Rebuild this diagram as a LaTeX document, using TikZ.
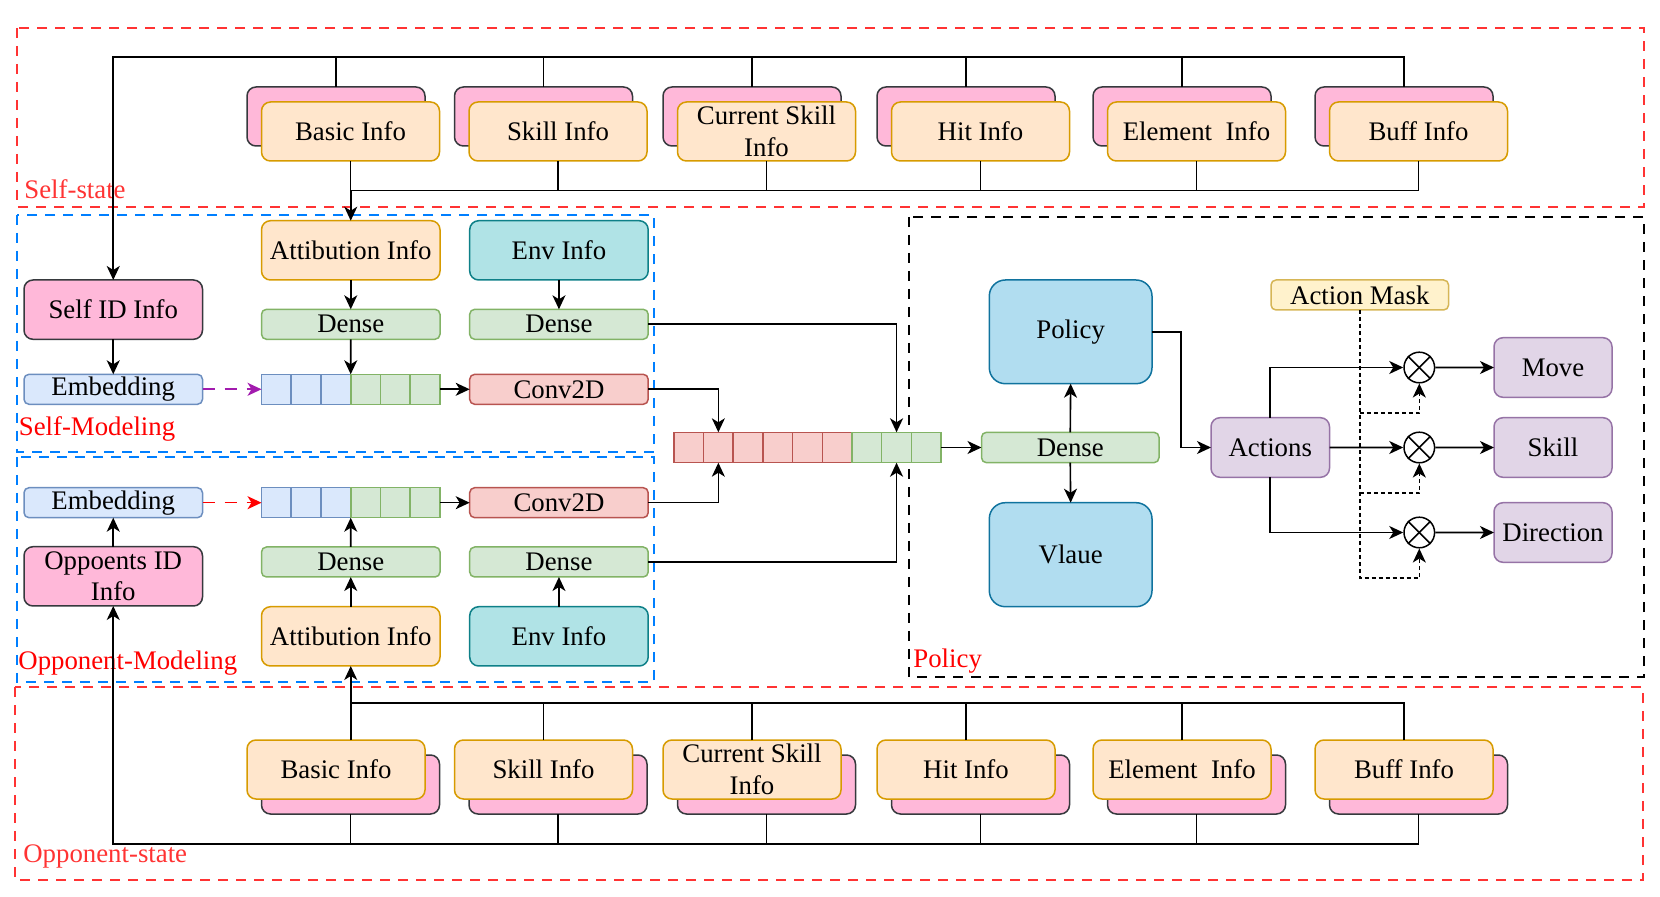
\documentclass[tikz,border=0pt]{standalone}
\usepackage{fontspec}
\setmainfont{Liberation Serif}
\usetikzlibrary{arrows.meta,calc}
\definecolor{orF}{HTML}{FFE6CC}\definecolor{orD}{HTML}{D79B00}
\definecolor{pkF}{HTML}{FFB8D9}\definecolor{pkD}{HTML}{36393D}
\definecolor{tlF}{HTML}{B0E3E6}\definecolor{tlD}{HTML}{0E8088}
\definecolor{gnF}{HTML}{D5E8D4}\definecolor{gnD}{HTML}{82B366}
\definecolor{blF}{HTML}{DAE8FC}\definecolor{blD}{HTML}{6C8EBF}
\definecolor{rdF}{HTML}{F8CECC}\definecolor{rdD}{HTML}{B85450}
\definecolor{skF}{HTML}{B1DDF0}\definecolor{skD}{HTML}{10739E}
\definecolor{puF}{HTML}{E1D5E7}\definecolor{puD}{HTML}{9673A6}
\definecolor{ylF}{HTML}{FFF2CC}\definecolor{ylD}{HTML}{D6B656}
\definecolor{frRed}{HTML}{FF3333}\definecolor{frBlue}{HTML}{007FFF}
\definecolor{embArr}{HTML}{A21BAE}
\begin{document}
\begin{tikzpicture}[x=0.5pt,y=-0.5pt,
  font=\fontsize{13.4pt}{15.8pt}\selectfont,
  base/.style={draw, line width=0.75pt, inner sep=0pt, outer sep=0pt, anchor=north west, align=center},
  wh/.style 2 args={minimum width=#1*0.5pt, minimum height=#2*0.5pt},
  big/.style={base, rounded corners=4.5pt},
  small/.style={base, rounded corners=2.5pt},
  cell/.style={base, minimum width=14.86pt, minimum height=15pt},
  orange/.style={fill=orF, draw=orD},
  pink/.style={fill=pkF, draw=pkD},
  teal/.style={fill=tlF, draw=tlD},
  green/.style={fill=gnF, draw=gnD},
  blue/.style={fill=blF, draw=blD},
  redb/.style={fill=rdF, draw=rdD},
  sky/.style={fill=skF, draw=skD},
  purp/.style={fill=puF, draw=puD},
  yell/.style={fill=ylF, draw=ylD},
  arr/.style={-{Stealth[length=7pt,width=6.5pt,inset=2pt]}, line width=0.8pt},
  ln/.style={line width=0.8pt},
  frame/.style={dash pattern=on 5pt off 4pt, line width=0.75pt},
  mline/.style={dash pattern=on 2pt off 1.5pt},
  lbl/.style={anchor=base west, inner sep=0pt, text=red},
  otimes/.style={circle, draw, line width=0.75pt, minimum size=15.3pt, inner sep=0pt, fill=white}
]
\useasboundingbox (0,0) rectangle (1660,897);

% frames
\draw[frame, frRed] (17,28) rectangle (1644,207);
\draw[frame, frBlue] (17,215) rectangle (654,452);
\draw[frame, frBlue] (17,457) rectangle (654,682);
\draw[frame, frRed] (15,687) rectangle (1643,880);
\draw[frame, black] (909,217) rectangle (1644,677);

\node[lbl, text=frRed] (lss) at (24,199) {Self-state};
\node[lbl] (lsm) at (18.5,436) {Self-Modeling};
\node[lbl] (lom) at (18,669) {Opponent-Modeling};
\node[lbl, text=frRed] (los) at (23,862) {Opponent-state};
\node[lbl] (lpo) at (913,668) {Policy};

% bus coordinates
\coordinate (tbus) at (0,57);
\coordinate (sbus) at (0,190.7);
\coordinate (obus) at (0,702.7);
\coordinate (bbus) at (0,843.7);
\coordinate (y413) at (0,413.3);
\coordinate (y493) at (0,493.3);
\coordinate (y578) at (0,578.3);

% top state boxes
\foreach \i/\p/\t in {1/247/Basic Info, 2/454.5/Skill Info, 3/663/{Current Skill\\Info}, 4/877/Hit Info, 5/1093/Element\ \ Info, 6/1315/Buff Info}{
  \node[big, pink, wh={178}{59}] (tb\i) at (\p,87) {};
  \node[big, orange, wh={178}{59}] (tf\i) at (\p+14.5,102) {\t};
}
% bottom state boxes
\foreach \i/\p/\t in {1/247/Basic Info, 2/454.5/Skill Info, 3/663/{Current Skill\\Info}, 4/877/Hit Info, 5/1093/Element\ \ Info, 6/1315/Buff Info}{
  \node[big, pink, wh={178}{59}] (bb\i) at (\p+14.5,755) {};
  \node[big, orange, wh={178}{59}] (fb\i) at (\p,740) {\t};
}

% self modeling
\node[big, pink, wh={178.5}{59.3}] (selfid) at (24,280) {Self ID Info};
\node[small, blue, wh={178.5}{30}] (embed1) at (24,374.3) {Embedding};
\node[big, orange, wh={178.5}{59.3}] (attr1) at (261.5,220.7) {Attibution Info};
\node[big, teal, wh={178.5}{59.3}] (env1) at (469.7,220.7) {Env Info};
\node[small, green, wh={178.5}{30}] (dense1a) at (261.5,309.3) {Dense};
\node[small, green, wh={178.5}{30}] (dense1b) at (469.7,309.3) {Dense};
\node[small, redb, wh={178.5}{30}] (conv1) at (469.7,374.3) {Conv2D};
\foreach \k in {1,2,3}{\node[cell, blue] (c1\k) at (261.5+29.75*\k-29.75,374.3) {};}
\foreach \k in {4,5,6}{\node[cell, green] (c1\k) at (261.5+29.75*\k-29.75,374.3) {};}

% opponent modeling
\node[small, blue, wh={178.5}{30}] (embed2) at (24,487.7) {Embedding};
\node[small, redb, wh={178.5}{30}] (conv2) at (469.7,487.7) {Conv2D};
\foreach \k in {1,2,3}{\node[cell, blue] (c2\k) at (261.5+29.75*\k-29.75,487.7) {};}
\foreach \k in {4,5,6}{\node[cell, green] (c2\k) at (261.5+29.75*\k-29.75,487.7) {};}
\node[big, pink, wh={178.5}{59.3}] (oppid) at (24,546.7) {Oppoents ID\\Info};
\node[small, green, wh={178.5}{30}] (dense2a) at (261.5,547) {Dense};
\node[small, green, wh={178.5}{30}] (dense2b) at (469.7,547) {Dense};
\node[big, orange, wh={178.5}{59.3}] (attr2) at (261.5,606.7) {Attibution Info};
\node[big, teal, wh={178.5}{59.3}] (env2) at (469.7,606.7) {Env Info};

% concat cells
\foreach \k in {1,...,6}{\node[base, redb, minimum width=14.85pt, minimum height=15.2pt] (cc\k) at (673.8+29.7*\k-29.7,432.3) {};}
\foreach \k in {7,8,9}{\node[base, green, minimum width=14.85pt, minimum height=15.2pt] (cc\k) at (673.8+29.7*\k-29.7,432.3) {};}

% policy
\node[small, green, wh={177.5}{30.4}] (dense3) at (981.5,432.3) {Dense};
\node[base, sky, rounded corners=8pt, wh={162.7}{103.7}] (policy) at (989.3,280) {Policy};
\node[base, sky, rounded corners=8pt, wh={162.7}{104}] (vlaue) at (989.3,502.7) {Vlaue};
\node[big, purp, wh={118.5}{59.6}] (actions) at (1211,417.7) {Actions};
\node[small, yell, wh={177.6}{30}] (mask) at (1271,280) {Action Mask};
\node[big, purp, wh={118}{59.6}] (move) at (1494,337.7) {Move};
\node[big, purp, wh={118}{59.6}] (skill) at (1494,417.7) {Skill};
\node[big, purp, wh={118}{59.6}] (direction) at (1494,502.7) {Direction};
\node[otimes] (ox1) at (1419.3,367.5) {};
\node[otimes] (ox2) at (1419.3,447.5) {};
\node[otimes] (ox3) at (1419.3,532.5) {};
\foreach \o in {ox1,ox2,ox3}{
  \draw[ln] (\o.45) -- (\o.225);
  \draw[ln] (\o.135) -- (\o.315);
}

% top connectors
\draw[arr] (tb6.north) |- (selfid.north |- tbus) -- (selfid.north);
\foreach \i in {1,...,5}{\draw[ln] (tb\i.north) -- (tb\i.north |- tbus);}
\draw[arr] (tf6.south) |- (attr1.north |- sbus) -- (attr1.north);
\foreach \i in {1,...,5}{\draw[ln] (tf\i.south) -- (tf\i.south |- sbus);}

% bottom connectors
\draw[arr] (fb1.north -| attr2.south) -- (attr2.south);
\draw[ln] (fb6.north) |- (attr2.south |- obus);
\foreach \i in {2,...,5}{\draw[ln] (fb\i.north) -- (fb\i.north |- obus);}
\draw[arr] (bb6.south) |- (oppid.south |- bbus) -- (oppid.south);
\foreach \i in {1,...,5}{\draw[ln] (bb\i.south) -- (bb\i.south |- bbus);}

% self modeling connectors
\draw[arr] (selfid.south) -- (embed1.north);
\draw[arr] (attr1.south) -- (dense1a.north);
\draw[arr] (dense1a.south) -- (c13.north east);
\draw[arr] (env1.south) -- (dense1b.north);
\draw[arr, embArr, dash pattern=on 6pt off 5pt] (embed1.east) -- (c11.west);
\draw[arr] (c16.east) -- (conv1.west);
\draw[arr] (dense1b.east) -| (cc8.north);
\draw[arr] (conv1.east) -| (cc2.north);

% opponent modeling connectors
\draw[arr] (oppid.north) -- (embed2.south);
\draw[arr] (attr2.north) -- (dense2a.south);
\draw[arr] (dense2a.north) -- (c23.south east);
\draw[arr] (env2.north) -- (dense2b.south);
\draw[arr, red, dash pattern=on 6pt off 5pt] (embed2.east) -- (c21.west);
\draw[arr] (c26.east) -- (conv2.west);
\draw[arr] (conv2.east) -| (cc2.south);
\draw[arr] (dense2b.east) -| (cc8.south);

% policy connectors
\draw[arr] (cc9.east) -- (dense3.west);
\draw[arr] (dense3.north) -- (policy.south);
\draw[arr] (dense3.south) -- (vlaue.north);
\draw[arr] (policy.east) -- ++(29,0) |- (actions.west);
\draw[arr] (actions.north) |- (ox1.west);
\draw[arr] (actions.east) -- (ox2.west);
\draw[arr] (actions.south) |- (ox3.west);
\draw[arr] (ox1.east) -- (move.west);
\draw[arr] (ox2.east) -- (skill.west);
\draw[arr] (ox3.east) -- (direction.west);
\draw[arr, mline] (mask.south) |- (ox3.south |- y578) -- (ox3.south);
\draw[arr, mline] (mask.south |- y413) -| (ox1.south);
\draw[arr, mline] (mask.south |- y493) -| (ox2.south);
\end{tikzpicture}
\end{document}
